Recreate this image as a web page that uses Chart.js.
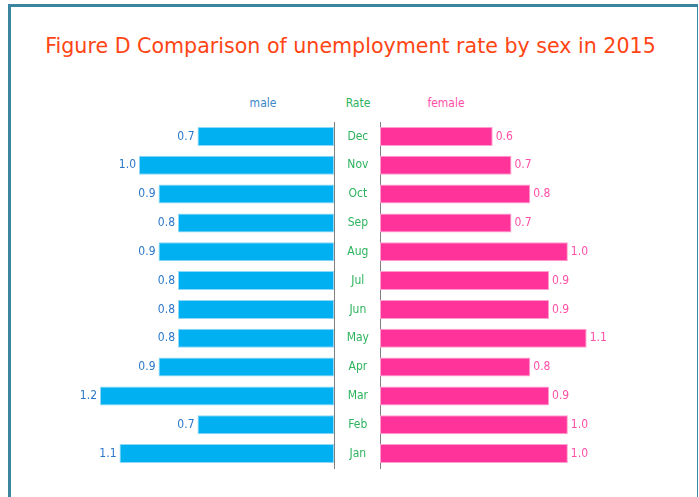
<!DOCTYPE html>
<html>
<head>
<meta charset="utf-8">
<script src="https://cdn.jsdelivr.net/npm/chart.js@4/dist/chart.umd.min.js"></script>
<style>
  html, body { margin: 0; padding: 0; background: #fff; }
  body { width: 699px; height: 497px; position: relative; overflow: hidden; font-family: "DejaVu Sans Condensed", "DejaVu Sans", sans-serif; }
  .frame { position: absolute; left: 8px; top: 4px; width: 686px; height: 520px; border-top: 3px solid #3a86a0; border-left: 3px solid #3a86a0; border-right: 1px solid #3a86a0; }
  .title { position: absolute; left: 0; width: 701px; top: 46px; transform: translateY(-50%); text-align: center; color: #ff4514; font-size: 20.6px; font-family: "DejaVu Sans", sans-serif; }
  .head { position: absolute; top: 103px; transform: translate(-50%, -50%); font-size: 12px; }
  #leftWrap { position: absolute; left: 0; top: 0; width: 336px; height: 497px; }
  #rightWrap { position: absolute; left: 334px; top: 0; width: 365px; height: 497px; }
</style>
</head>
<body>
<div class="frame"></div>
<div class="title">Figure D Comparison of unemployment rate by sex in 2015</div>
<div class="head" style="left:263px;color:#3a86c8">male</div>
<div class="head" style="left:358px;color:#2db35d">Rate</div>
<div class="head" style="left:446px;color:#ff4fa7">female</div>
<div id="leftWrap"><canvas id="maleChart"></canvas></div>
<div id="rightWrap"><canvas id="femaleChart"></canvas></div>
<script>
// unemployment rate by month, 2015
const months = ['Jan', 'Feb', 'Mar', 'Apr', 'May', 'Jun', 'Jul', 'Aug', 'Sep', 'Oct', 'Nov', 'Dec'];
const maleRate = [1.1, 0.7, 1.2, 0.9, 0.8, 0.8, 0.8, 0.9, 0.8, 0.9, 1.0, 0.7];
const femaleRate = [1.0, 1.0, 0.9, 0.8, 1.1, 0.9, 0.9, 1.0, 0.7, 0.8, 0.7, 0.6];
const rateMax = 1.4;

// draws the value next to the end of each bar
const valueLabels = {
  id: 'valueLabels',
  afterDatasetsDraw(chart, args, opts) {
    const ctx = chart.ctx;
    const meta = chart.getDatasetMeta(0);
    const data = chart.data.datasets[0].data;
    ctx.save();
    ctx.font = '12px "DejaVu Sans Condensed", "DejaVu Sans", sans-serif';
    ctx.fillStyle = opts.color;
    ctx.textBaseline = 'middle';
    ctx.textAlign = opts.side === 'left' ? 'right' : 'left';
    meta.data.forEach((bar, i) => {
      const x = opts.side === 'left' ? bar.x - 3 : bar.x + 3;
      ctx.fillText(data[i].toFixed(1), x, bar.y);
    });
    ctx.restore();
  }
};

const font = { family: '"DejaVu Sans Condensed", "DejaVu Sans", sans-serif', size: 12 };

new Chart(document.getElementById('maleChart'), {
  type: 'bar',
  data: {
    labels: months,
    datasets: [{
      label: 'male',
      data: maleRate,
      backgroundColor: '#00b0f0',
      borderColor: '#8fd8f6',
      borderWidth: 1,
      borderSkipped: false,
      barPercentage: 0.66,
      categoryPercentage: 1
    }]
  },
  options: {
    indexAxis: 'y',
    responsive: true,
    maintainAspectRatio: false,
    animation: false,
    layout: { padding: { top: 122, bottom: 29, left: 61, right: 2 } },
    plugins: {
      legend: { display: false },
      tooltip: { enabled: false },
      valueLabels: { side: 'left', color: '#2a77c9' }
    },
    scales: {
      x: { display: false, reverse: true, min: 0, max: rateMax },
      y: {
        position: 'right',
        reverse: true,
        grid: { display: false, drawTicks: false, tickLength: 0 },
        border: { display: true, color: '#808080', width: 1 },
        ticks: { display: false },
        afterFit: s => { s.width = 0; }
      }
    }
  },
  plugins: [valueLabels]
});

new Chart(document.getElementById('femaleChart'), {
  type: 'bar',
  data: {
    labels: months,
    datasets: [{
      label: 'female',
      data: femaleRate,
      backgroundColor: '#ff3399',
      borderColor: '#ff9fcf',
      borderWidth: 1,
      borderSkipped: false,
      barPercentage: 0.66,
      categoryPercentage: 1
    }]
  },
  options: {
    indexAxis: 'y',
    responsive: true,
    maintainAspectRatio: false,
    animation: false,
    layout: { padding: { top: 122, bottom: 29, left: 0, right: 56 } },
    plugins: {
      legend: { display: false },
      tooltip: { enabled: false },
      valueLabels: { side: 'right', color: '#ff4fa7' }
    },
    scales: {
      x: { display: false, min: 0, max: rateMax },
      y: {
        position: 'left',
        reverse: true,
        grid: { display: false, drawTicks: false, tickLength: 0 },
        border: { display: true, color: '#808080', width: 1 },
        ticks: { color: '#2db35d', font: font, crossAlign: 'center', padding: 11 },
        afterFit: s => { s.width = 46; }
      }
    }
  },
  plugins: [valueLabels]
});
</script>
</body>
</html>
